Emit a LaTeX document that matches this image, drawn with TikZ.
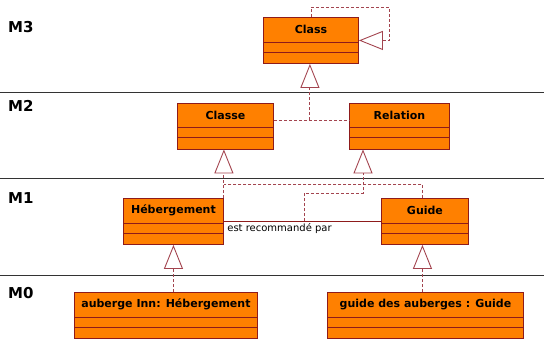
\documentclass[tikz,border=0pt]{standalone}
\usepackage{fontspec}
\setmainfont{DejaVu Sans}
\usetikzlibrary{arrows.meta,calc}
\definecolor{uorange}{HTML}{FF8000}
\definecolor{uborder}{HTML}{8E1B1B}
\definecolor{udash}{HTML}{A3444F}
\tikzset{
 umlbox/.style={draw=uborder, fill=uorange, line width=0.9pt, inner sep=0, anchor=north west},
 comp/.style={draw=uborder, line width=0.9pt},
 cname/.style={font=\bfseries\fontsize{11}{12}\selectfont, inner sep=0},
 dep/.style={draw=udash, line width=0.9pt, dash pattern=on 3pt off 2pt},
 gen/.style={dep, -{Triangle[open, length=24pt, width=19pt, line width=0.9pt]}},
 assoc/.style={draw=uborder, line width=0.9pt},
 sepline/.style={draw=black!80, line width=0.9pt},
 level/.style={font=\bfseries\fontsize{15}{16}\selectfont, anchor=west, inner sep=0},
 lbl/.style={font=\fontsize{10}{12}\selectfont, inner sep=0},
}
\newcommand\umlclass[5]{%
 \node[umlbox, minimum width=#4pt, minimum height=46pt] (#1) at (#2,#3) {};
 \draw[comp] ($(#1.north west)+(0,25)$) -- ($(#1.north east)+(0,25)$);
 \draw[comp] ($(#1.north west)+(0,35)$) -- ($(#1.north east)+(0,35)$);
 \node[cname] (#1-name) at ($(#1.north)+(0,12.5)$) {#5};
}
\begin{document}
\begin{tikzpicture}[x=1pt,y=-1pt]
\useasboundingbox (0,0) rectangle (544,340);
% level separators
\draw[sepline] (0,92) -- (544,92);
\draw[sepline] (0,178) -- (544,178);
\draw[sepline] (0,275) -- (544,275);
\node[level] (m3) at (8,27.5) {M3};
\node[level] (m2) at (8,106) {M2};
\node[level] (m1) at (8,198) {M1};
\node[level] (m0) at (8,293) {M0};
% classes
\umlclass{class}{263}{17}{95}{Class}
\umlclass{classe}{177}{102.5}{96}{Classe}
\umlclass{relation}{349}{102.5}{100}{Relation}
\umlclass{heb}{123}{198}{100}{Hébergement}
\umlclass{guide}{381}{198}{87}{Guide}
\umlclass{inn}{74}{292}{183}{auberge Inn: Hébergement}
\umlclass{guidea}{327}{292}{196}{guide des auberges : Guide}
% helper coordinates
\coordinate (loopA) at (389,7);
\coordinate (classTip) at ($(class.south)+(-1.5,0)$);
\coordinate (cj) at ($(classe.north east)+(36,17.5)$);
\coordinate (relTip) at ($(relation.south west)+(14,0)$);
\coordinate (relKnee) at ($(relTip)+(0,44)$);
\coordinate (guideTip) at ($(guide.south)+(-2.5,0)$);
\coordinate (guideTop) at ($(guide.north)+(-2.5,0)$);
\coordinate (mergeY) at ($(heb.north east)+(0,-14)$);
% self generalisation
\draw[gen] (class.north) |- (loopA) |- (class.east);
% M2 -> M3
\draw[dep] ($(classe.north east)+(0,17.5)$) -- ($(relation.north west)+(0,17.5)$);
\draw[gen] (cj) -- (cj |- classTip);
% association
\draw[assoc] (heb.east) -- node[lbl, pos=0, anchor=north west, xshift=3pt, yshift=-2pt] (assoclbl) {est recommandé par} (guide.west);
\coordinate (assocMid) at ($(heb.east)!0.51!(guide.west)$);
% M1 -> M2
\draw[gen] (heb.north east) -- (heb.north east |- classe.south);
\draw[dep] (guideTop) |- (mergeY);
\draw[gen] (assocMid) |- (relKnee) -- (relTip);
% M0 -> M1
\draw[gen] (inn.north -| heb.south) -- (heb.south);
\draw[gen] (guidea.north -| guideTip) -- (guideTip);
\end{tikzpicture}
\end{document}
